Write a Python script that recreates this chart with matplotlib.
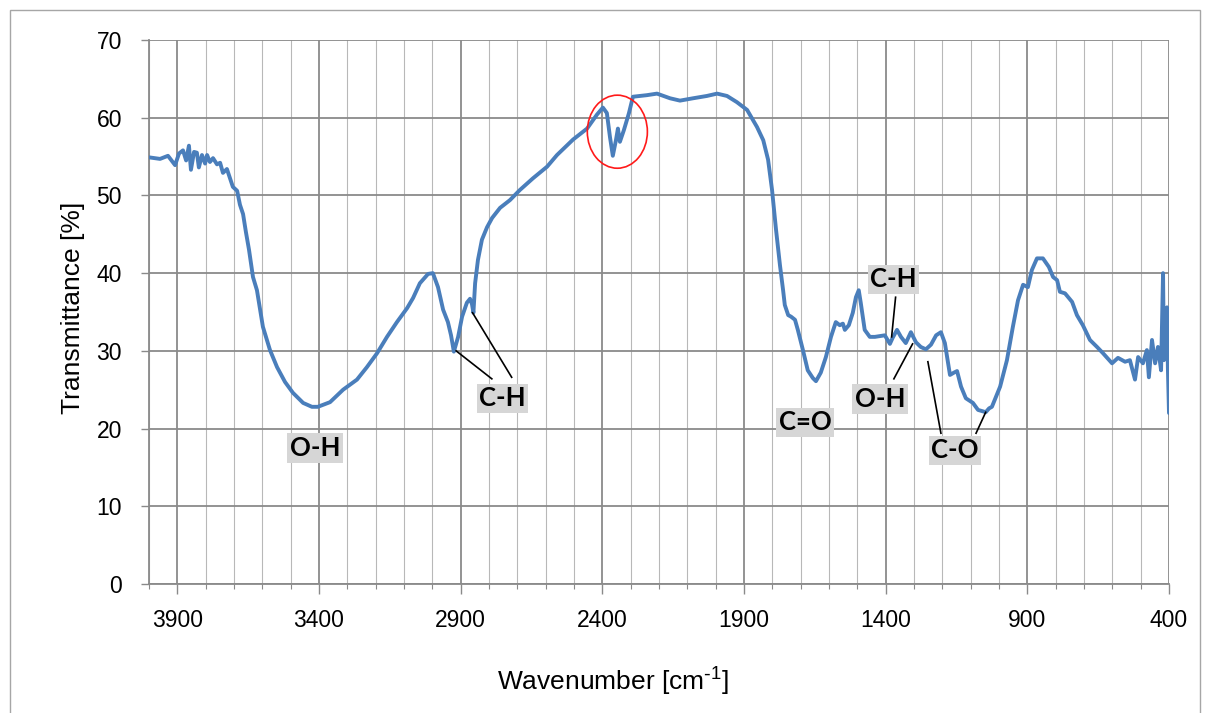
import matplotlib
matplotlib.use("Agg")
import matplotlib.pyplot as plt
from matplotlib.patches import Ellipse, Rectangle
from matplotlib.ticker import MultipleLocator, FixedLocator

plt.rcParams['font.family'] = ['Liberation Sans', 'DejaVu Sans']
plt.rcParams['mathtext.default'] = 'regular'

# FTIR spectrum: wavenumber [cm-1] and transmittance [%]
wavenumber = [
    4000, 3961, 3933, 3908, 3894, 3880, 3869, 3859, 3852, 3841, 3831, 3824,
    3813, 3802, 3795, 3785, 3774, 3760, 3749, 3739, 3725, 3714, 3704, 3689,
    3679, 3668, 3658, 3647, 3633, 3619, 3598, 3573, 3548, 3520, 3492, 3456,
    3425, 3404, 3361, 3315, 3266, 3231, 3195, 3160, 3125, 3089, 3068, 3044,
    3015, 2998, 2980, 2962, 2945, 2934, 2924, 2909, 2895, 2878, 2867, 2860,
    2855, 2849, 2839, 2825, 2807, 2789, 2761, 2726, 2691, 2645, 2595, 2560,
    2503, 2454, 2419, 2398, 2384, 2373, 2363, 2352, 2345, 2338, 2324, 2306,
    2292, 2243, 2207, 2161, 2126, 2080, 2031, 1995, 1960, 1925, 1889, 1854,
    1832, 1815, 1801, 1787, 1773, 1762, 1756, 1744, 1734, 1720, 1710, 1692,
    1675, 1657, 1646, 1629, 1611, 1593, 1576, 1562, 1551, 1544, 1530, 1516,
    1505, 1495, 1488, 1474, 1456, 1438, 1421, 1403, 1385, 1375, 1360, 1346,
    1329, 1311, 1293, 1276, 1258, 1240, 1222, 1205, 1191, 1173, 1159, 1148,
    1134, 1117, 1092, 1074, 1055, 1047, 1035, 1025, 996, 972, 951, 933,
    915, 898, 884, 866, 845, 824, 809, 795, 785, 767, 742, 725,
    704, 679, 654, 633, 601, 580, 555, 538, 520, 509, 492, 478,
    471, 460, 449, 439, 428, 421, 418, 407, 404, 400,
]
transmittance = [
    54.9, 54.7, 55.1, 53.9, 55.4, 55.8, 54.5, 56.4, 53.3, 55.6, 55.5, 53.6,
    55.2, 54.1, 55.2, 54.3, 54.8, 54.0, 54.2, 52.9, 53.4, 52.2, 51.1, 50.6,
    48.8, 47.6, 45.3, 43.0, 39.5, 37.8, 33.1, 30.1, 27.9, 26.0, 24.6, 23.3,
    22.8, 22.8, 23.4, 25.0, 26.3, 27.9, 29.7, 31.8, 33.7, 35.5, 36.8, 38.7,
    39.9, 40.0, 38.2, 35.3, 33.7, 32.0, 29.9, 31.8, 34.4, 36.2, 36.7, 36.0,
    34.9, 38.7, 41.7, 44.3, 45.9, 47.1, 48.4, 49.4, 50.7, 52.2, 53.7, 55.2,
    57.2, 58.6, 60.4, 61.3, 60.6, 57.5, 55.1, 57.1, 58.6, 56.9, 58.4, 60.6,
    62.7, 62.9, 63.1, 62.5, 62.2, 62.5, 62.8, 63.1, 62.8, 62.0, 61.0, 58.8,
    57.1, 54.6, 50.7, 45.6, 41.0, 37.8, 35.9, 34.6, 34.4, 34.0, 32.7, 30.1,
    27.5, 26.5, 26.1, 27.2, 29.2, 31.8, 33.7, 33.3, 33.5, 32.7, 33.3, 34.9,
    36.9, 37.8, 36.2, 32.7, 31.8, 31.8, 31.9, 32.0, 30.9, 31.7, 32.7, 31.8,
    31.0, 32.4, 31.1, 30.5, 30.2, 30.8, 32.0, 32.4, 31.0, 26.9, 27.2, 27.4,
    25.4, 23.9, 23.3, 22.4, 22.2, 22.1, 22.6, 22.8, 25.4, 28.8, 33.1, 36.5,
    38.5, 38.2, 40.4, 41.9, 41.9, 40.8, 39.5, 39.1, 37.6, 37.4, 36.3, 34.6,
    33.3, 31.4, 30.5, 29.7, 28.4, 29.1, 28.6, 28.8, 26.3, 29.2, 28.4, 30.1,
    26.6, 31.4, 28.4, 30.5, 27.5, 40.0, 28.8, 35.6, 27.9, 22.0,
]

x_major_ticks = [3900, 3400, 2900, 2400, 1900, 1400, 900, 400]
y_ticks = [0, 10, 20, 30, 40, 50, 60, 70]

# Band assignments: label, label position, arrow targets (wavenumber, T)
band_labels = [
    ("O-H", (3414, 17.5), []),
    ("C-H", (2752, 23.9), [((2790, 26.4), (2916, 30.0)),
                           ((2720, 26.6), (2858, 34.9))]),
    ("C=O", (1685, 20.8), []),
    ("C-H", (1372, 39.2), [((1365, 36.9), (1379, 31.8))]),
    ("O-H", (1420, 23.8), [((1371, 26.4), (1305, 30.9))]),
    ("C-O", (1155, 17.2), [((1205, 19.4), (1251, 28.6)),
                           ((1081, 19.4), (1047, 22.1))]),
]

W, H = 1207, 713
fig = plt.figure(figsize=(W / 100, H / 100), dpi=100)
ax = fig.add_axes([149 / W, 1 - 584 / H, (1169 - 149) / W, (584 - 40) / H])

ax.plot(wavenumber, transmittance, color='#4a7ebb', lw=2.8, zorder=3,
        solid_joinstyle='round', solid_capstyle='round')

ax.set_xlim(4000, 400)
ax.set_ylim(0, 70)
ax.xaxis.set_major_locator(FixedLocator(x_major_ticks))
ax.xaxis.set_minor_locator(MultipleLocator(100))
ax.set_yticks(y_ticks)

ax.grid(which='major', axis='both', color='#8a8a8a', lw=1.3, zorder=1)
ax.grid(which='minor', axis='x', color='#b8b8b8', lw=0.8, zorder=1)
for s in ['top', 'right']:
    ax.spines[s].set_visible(False)
for s in ['left', 'bottom']:
    ax.spines[s].set_color('#8a8a8a')
    ax.spines[s].set_linewidth(1.3)

ax.tick_params(axis='x', which='major', length=7, width=1.0, color='#8a8a8a',
               pad=11, labelsize=16.5)
ax.tick_params(axis='x', which='minor', length=3.5, width=0.8, color='#8a8a8a')
ax.tick_params(axis='y', which='major', length=6, width=1.0, color='#8a8a8a',
               pad=13.5, labelsize=16.5)

# Band labels with connector lines
for text, pos, lines in band_labels:
    for start, end in lines:
        ax.plot([start[0], end[0]], [start[1], end[1]], color='black',
                lw=1.2, zorder=4)
    ax.text(pos[0], pos[1], text, ha='center', va='center', fontsize=18.5,
            fontweight='bold', family=['Lato', 'DejaVu Sans'], zorder=5,
            bbox=dict(boxstyle='square,pad=0.1', fc='#d6d6d6', ec='none'))

# Highlight of the CO2 doublet
ax.add_patch(Ellipse((2347, 58.2), 212, 9.4, fill=False, ec='#ff1a1a',
                     lw=1.2, zorder=4))

fig.text(613 / W, 1 - 682 / H, r'Wavenumber [cm$^{\text{-}1}$]', ha='center',
         va='center', fontsize=19)
fig.text(73 / W, 1 - 308 / H, 'Transmittance [%]', ha='center',
         va='center', rotation=90, fontsize=19)

# Chart area border
fig.add_artist(Rectangle((10, -20), 1190, 723, transform=None, fill=False,
                         ec='#a6a6a6', lw=1.0))

fig.savefig('out.png', dpi=100)
